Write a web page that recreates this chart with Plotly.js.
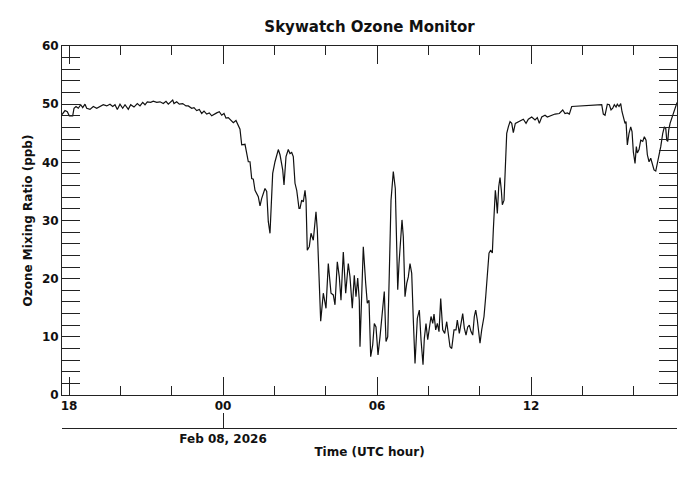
<!DOCTYPE html>
<html>
<head>
<meta charset="utf-8">
<script src="https://cdn.plot.ly/plotly-3.0.1.min.js"></script>
<style>html,body{margin:0;padding:0;background:#fff;}#chart{width:699px;height:477px;}</style>
</head>
<body>
<div id="chart"></div>
<script>
// Hours since 2026-02-07 00:00 UTC
const hours = [
17.727,17.844,17.934,18.012,18.144,18.195,18.273,18.362,18.456,18.534,18.623,18.690,18.818,18.947,19.079,19.208,19.336,19.469,19.597,19.703,
19.792,19.882,19.987,20.092,20.182,20.310,20.404,20.532,20.661,20.766,20.871,20.961,21.050,21.183,21.284,21.417,21.545,21.674,21.779,21.869,
21.962,22.040,22.091,22.196,22.297,22.430,22.558,22.648,22.780,22.870,22.975,23.077,23.170,23.260,23.365,23.466,23.560,23.649,23.755,23.856,
23.949,24.039,24.117,24.206,24.300,24.401,24.506,24.596,24.662,24.729,24.857,24.986,25.052,25.118,25.181,25.247,25.313,25.375,25.442,25.508,
25.636,25.703,25.765,25.831,25.936,26.026,26.155,26.221,26.326,26.377,26.455,26.544,26.610,26.677,26.739,26.805,26.872,26.961,27.000,27.066,
27.129,27.195,27.234,27.284,27.362,27.429,27.518,27.623,27.674,27.752,27.806,27.908,28.013,28.102,28.208,28.297,28.363,28.453,28.531,28.597,
28.687,28.780,28.881,28.948,29.037,29.115,29.181,29.248,29.310,29.337,29.466,29.559,29.622,29.688,29.754,29.832,29.895,29.961,30.039,30.117,
30.195,30.284,30.351,30.417,30.479,30.546,30.635,30.713,30.768,30.807,30.857,30.896,30.974,31.025,31.091,31.158,31.220,31.286,31.352,31.415,
31.481,31.571,31.649,31.715,31.793,31.843,31.909,31.976,32.038,32.104,32.171,32.221,32.287,32.350,32.416,32.482,32.560,32.638,32.716,32.778,
32.844,32.911,33.000,33.078,33.129,33.207,33.273,33.339,33.402,33.468,33.534,33.596,33.663,33.729,33.791,33.846,33.908,33.974,34.013,34.079,
34.169,34.235,34.298,34.364,34.430,34.493,34.532,34.571,34.610,34.649,34.688,34.742,34.793,34.844,34.883,34.949,35.000,35.054,35.117,35.183,
35.249,35.311,35.389,35.506,35.639,35.701,35.806,35.896,36.028,36.157,36.246,36.324,36.418,36.546,36.636,36.807,36.936,37.103,37.236,37.325,
37.415,37.493,37.559,37.586,38.755,38.818,38.884,38.974,39.052,39.118,39.184,39.246,39.313,39.363,39.429,39.495,39.546,39.597,39.663,39.702,
39.753,39.819,39.885,39.936,39.987,40.053,40.104,40.143,40.209,40.275,40.353,40.416,40.482,40.533,40.599,40.665,40.727,40.793,40.860,40.922,
40.988,41.055,41.133,41.195,41.250,41.289,41.328,41.367,41.418,41.484,41.546,41.612,41.690
];
// Ozone mixing ratio (ppb)
const ozone = [
48.2,48.9,48.7,48.0,48.0,49.3,49.6,49.3,49.9,49.4,50.0,49.3,49.1,49.6,49.3,49.6,49.9,49.7,50.0,49.6,
49.9,49.1,50.0,49.3,49.9,49.1,49.9,49.5,50.1,49.7,50.3,49.9,50.4,50.3,50.5,50.3,50.4,50.1,50.5,50.0,
50.4,50.7,50.1,50.4,50.0,50.1,49.7,49.7,49.3,49.4,48.9,49.1,48.4,48.8,48.3,48.5,48.0,48.3,48.5,48.7,
48.1,48.4,47.6,47.7,47.3,46.8,47.2,46.4,45.7,43.0,43.1,40.1,40.1,37.2,37.1,35.2,34.7,34.1,32.5,33.8,
35.5,35.0,29.8,27.8,38.1,40.1,42.2,41.3,38.7,36.1,41.0,42.2,41.5,41.7,41.0,36.4,35.2,32.1,32.1,33.5,
33.2,35.2,33.5,24.9,25.5,27.8,26.6,31.5,28.4,18.1,12.7,17.5,14.9,22.6,17.5,17.2,15.5,22.9,20.3,16.3,
24.6,17.5,22.6,20.3,14.9,20.6,16.9,20.1,16.3,8.3,25.5,19.2,15.8,16.3,6.6,8.6,12.3,11.7,6.9,10.0,
14.0,17.8,9.2,10.0,20.9,33.5,38.4,35.5,25.5,18.1,22.6,24.9,30.1,27.2,16.9,19.2,20.3,22.6,20.9,12.9,
5.4,13.2,14.6,9.5,5.2,9.7,12.3,9.5,11.7,13.5,12.3,13.9,11.2,12.3,10.9,16.6,11.2,10.6,12.6,10.0,
8.3,8.0,11.2,11.2,12.9,10.6,12.3,14.0,11.5,10.3,11.7,12.0,10.9,10.3,13.5,14.6,12.9,10.6,8.9,11.2,
13.5,16.9,20.3,24.4,24.9,24.4,28.4,32.4,35.2,33.5,31.2,35.8,37.4,35.2,32.7,33.5,38.7,45.0,46.1,47.0,
46.7,45.1,46.7,47.0,47.3,47.4,46.7,47.4,47.8,47.3,47.7,46.7,47.8,48.1,47.8,48.1,48.3,48.4,49.0,48.4,
48.5,48.3,49.3,49.6,49.9,48.3,48.1,50.0,49.9,49.0,49.3,49.9,49.5,50.0,49.6,50.1,48.7,47.6,46.7,47.0,
43.0,45.0,46.1,45.3,41.8,39.8,42.7,41.6,42.2,43.8,43.6,44.4,43.8,41.3,40.1,40.7,39.5,38.7,38.5,39.8,
41.0,42.7,45.0,46.1,45.8,43.8,43.6,45.6,46.7,47.6,48.4,49.3,50.3
];
const dateTickVals = ['2026-02-08 00:00'];
const dateTickText = ['Feb 08, 2026'];
const xRange = ['2026-02-07 17:43:38', '2026-02-08 17:41:17'];

const base = Date.UTC(2026, 1, 7);
function toStr(h) {
  return new Date(base + h * 3600000).toISOString().slice(0, 23).replace('T', ' ');
}
const times = hours.map(toStr);

const FONT = 'DejaVu Sans, sans-serif';
const tickFont = {family: FONT, size: 12, color: '#111', weight: 'bold'};

const traces = [
  {x: times, y: ozone, type: 'scatter', mode: 'lines', line: {color: '#111', width: 1.2}, hoverinfo: 'x+y', showlegend: false},
  {x: [xRange[0]], y: [null], xaxis: 'x2', yaxis: 'y', type: 'scatter', mode: 'lines', showlegend: false, hoverinfo: 'skip'}
];

const H6 = 6 * 3600000, H2 = 2 * 3600000;
const layout = {
  width: 699, height: 477,
  margin: {l: 62, r: 22, t: 46, b: 49, pad: 0},
  paper_bgcolor: '#fff', plot_bgcolor: '#fff',
  font: {family: FONT, color: '#111'},
  showlegend: false,
  title: {text: 'Skywatch Ozone Monitor', font: {family: FONT, size: 15, color: '#111', weight: 'bold'},
          x: 0.5, xref: 'paper', xanchor: 'center', y: 1 - 27 / 477, yref: 'container', yanchor: 'middle'},
  xaxis: {
    type: 'date', range: xRange, anchor: 'y',
    tick0: '2026-02-07 00:00', dtick: H6, tickformat: '%H',
    ticks: 'inside', ticklen: 18, tickwidth: 1, tickcolor: '#222',
    showline: true, linecolor: '#222', linewidth: 1, mirror: 'allticks',
    showgrid: false, zeroline: false, tickfont: tickFont,
    minor: {dtick: H2, tick0: '2026-02-07 00:00', ticks: 'inside', ticklen: 9, tickwidth: 1, tickcolor: '#222', showgrid: false}
  },
  xaxis2: {
    type: 'date', range: xRange, overlaying: 'x', anchor: 'free', position: 0, side: 'bottom',
    tickvals: dateTickVals, ticktext: dateTickText,
    ticks: 'inside', ticklen: 15, tickwidth: 1, tickcolor: '#222',
    showline: true, linecolor: '#222', linewidth: 1, showgrid: false, zeroline: false,
    tickfont: tickFont,
    title: {text: 'Time (UTC hour)', font: {family: FONT, size: 12, color: '#111', weight: 'bold'}, standoff: 2}
  },
  yaxis: {
    range: [0, 60], domain: [33 / 382, 1], dtick: 10, tick0: 0,
    ticks: 'inside', ticklen: 18, tickwidth: 1, tickcolor: '#222',
    showline: true, linecolor: '#222', linewidth: 1, mirror: 'allticks',
    showgrid: false, zeroline: false, tickfont: tickFont,
    minor: {dtick: 2, ticks: 'inside', ticklen: 9, tickwidth: 1, tickcolor: '#222', showgrid: false},
    title: {text: 'Ozone Mixing Ratio (ppb)', font: {family: FONT, size: 12, color: '#111', weight: 'bold'}, standoff: 6}
  }
};

Plotly.newPlot('chart', traces, layout, {displayModeBar: false, staticPlot: true});
</script>
</body>
</html>
